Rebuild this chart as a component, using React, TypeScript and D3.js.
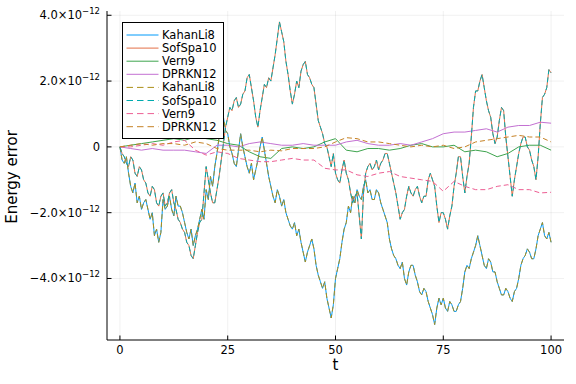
import React from "react";
import * as d3 from "d3";

// values in units of 1e-12
const tHalf: number[] = d3.range(0, 100.5, 0.5);
const tStep25: number[] = d3.range(0, 101, 2.5);

const kahanLi8: number[] = [
  0, -0.4, -0.5, -0.3, -0.8, -1.2, -1.4, -1.1, -1.7, -1.5,
  -1.9, -1.7, -1.6, -1.9, -2.2, -2.0, -2.7, -2.5, -2.9, -2.6,
  -1.6, -1.9, -1.8, -1.5, -1.9, -2.1, -1.5, -1.8, -1.8, -2.0,
  -2.3, -2.6, -2.8, -2.5, -3.0, -2.7, -2.5, -2.2, -1.9, -2.2,
  -1.3, -1.6, -0.9, -1.2, -0.6, -0.2, 0.3, 0.7, 0.9, 0.5,
  0.4, 0.0, -0.2, -0.5, -0.6, -0.1, 0.4, 0.0, -0.3, -0.6,
  -0.8, -0.5, -1.0, -0.7, -0.4, 0.0, 0.3, -0.1, -0.5, -0.9,
  -1.2, -1.5, -1.7, -1.3, -1.5, -1.8, -1.6, -2.0, -2.2, -2.4,
  -2.5, -2.3, -2.7, -2.5, -2.9, -3.2, -3.5, -3.2, -3.0, -2.8,
  -3.1, -3.6, -3.9, -4.1, -4.3, -4.1, -4.6, -4.9, -5.2, -4.8,
  -4.0, -3.7, -3.4, -2.9, -2.5, -2.3, -1.8, -2.0, -1.5, -1.7,
  -1.3, -1.5, -1.6, -1.2, -1.0, -1.4, -1.3, -1.6, -1.6, -1.3,
  -1.4, -1.7, -1.9, -2.1, -2.3, -2.8, -3.1, -3.3, -3.4, -3.6,
  -3.7, -3.5, -4.0, -4.2, -3.8, -3.6, -3.6, -3.9, -4.1, -4.4,
  -4.5, -4.3, -4.4, -4.7, -4.9, -5.1, -5.4, -4.9, -4.6, -4.8,
  -4.6, -4.9, -5.0, -4.7, -4.8, -5.0, -5.0, -4.8, -4.7, -4.3,
  -3.8, -3.6, -3.7, -3.4, -3.2, -3.0, -2.7, -3.0, -3.3, -3.6,
  -3.7, -3.4, -3.5, -3.8, -3.8, -4.1, -4.3, -4.5, -4.5, -4.3,
  -4.4, -4.6, -4.7, -4.4, -4.3, -4.0, -3.6, -3.4, -3.3, -3.1,
  -3.2, -3.4, -3.4, -3.1, -2.7, -2.5, -2.3, -2.7, -2.8, -2.6,
  -2.9,
];

const sofSpa10: number[] = [
  0, -0.2, -0.3, -0.5, -0.6, -0.3, -0.4, -0.8, -0.9, -0.6,
  -0.7, -1.0, -1.1, -1.4, -1.5, -1.2, -1.3, -1.7, -1.8, -1.5,
  -1.4, -1.8, -1.7, -1.4, -1.3, -1.7, -1.9, -2.2, -2.3, -2.5,
  -2.6, -2.9, -3.0, -3.3, -3.4, -3.0, -2.6, -2.3, -2.2, -1.4,
  -0.6, -1.0, -1.4, -1.7, -1.7, -1.3, -0.9, -0.4, 0.1, 0.6,
  0.9, 1.2, 1.1, 1.4, 1.5, 1.2, 1.3, 1.6, 1.7, 2.1,
  2.2, 1.8, 1.4, 0.9, 0.6, 1.1, 1.5, 1.9, 1.8, 2.1,
  2.0, 2.4, 2.8, 3.3, 3.8, 3.5, 3.2, 2.6, 2.2, 1.7,
  1.3, 1.6, 2.0, 1.8, 2.3, 2.5, 2.6, 2.2, 2.1, 1.9,
  1.8, 1.3, 0.8, 0.6, 0.4, 0.1, 0.0, -0.3, -0.6, -0.2,
  -0.8, -1.0, -1.1, -0.7, -0.4, -0.8, -1.0, -1.4, -1.7, -1.5,
  -1.4, -2.1, -2.8, -1.4, -0.8, -0.6, -0.5, -0.7, -0.6, -0.4,
  -0.7, -0.5, -0.4, -0.2, -0.2, -0.5, -0.8, -1.1, -1.4, -1.8,
  -2.2, -2.0, -1.9, -1.5, -1.2, -1.4, -1.5, -1.3, -1.2, -1.5,
  -1.7, -1.5, -1.5, -1.0, -0.8, -1.0, -1.2, -1.8, -2.3, -2.0,
  -2.0, -2.2, -2.5, -2.1, -1.8, -1.2, -0.8, -0.3, -0.3, -0.9,
  -1.4, -0.9, -0.5, 0.3, 1.2, 1.7, 1.7, 2.0, 2.2, 1.8,
  1.4, 1.1, 0.9, 0.4, 0.1, 0.3, 0.8, 1.2, 1.1, 0.3,
  -0.3, -0.9, -1.5, -1.0, -0.6, -0.2, 0.1, 0.3, 0.3, 0.0,
  -0.1, -0.4, -0.6, -1.0, -0.3, 0.7, 1.5, 1.6, 1.8, 2.35,
  2.25,
];

const vern9: number[] = [
  0, 0.05, 0.1, 0.15, 0.2, 0.25, 0.2, 0.3, 0.25, 0.2,
  0.1, 0.05, -0.15, -0.3, -0.35, -0.05, 0.0, -0.05, 0.0, 0.15,
  0.25, -0.1, -0.15, -0.05, -0.05, -0.1, -0.05, 0.05, 0.1, 0.0,
  0.0, 0.05, -0.15, -0.1, -0.15, -0.3, -0.2, 0.0, 0.05, 0.05,
  -0.1,
];

const dprkn12: number[] = [
  0, -0.05, -0.1, -0.05, -0.1, -0.1, -0.1, -0.15, -0.2, 0.05,
  0.05, 0.0, 0.1, 0.15, 0.1, 0.05, 0.05, 0.1, 0.05, 0.05,
  0.05, 0.15, 0.2, 0.1, 0.05, 0.05, 0.1, 0.05, 0.15, 0.25,
  0.4, 0.45, 0.45, 0.5, 0.55, 0.45, 0.6, 0.65, 0.65, 0.75,
  0.72,
];

const vern9Dashed: number[] = [
  0, 0.0, 0.05, 0.1, 0.05, 0.15, 0.2, -0.1, -0.25, -0.15,
  -0.2, -0.35, -0.4, -0.45, -0.45, -0.4, -0.35, -0.4, -0.4, -0.65,
  -0.7, -0.7, -0.85, -0.9, -0.8, -0.75, -0.9, -0.95, -1.0, -1.05,
  -1.35, -1.05, -1.2, -1.3, -1.3, -1.2, -1.15, -1.3, -1.3, -1.4,
  -1.38,
];

const dprkn12Dashed: number[] = [
  0, 0.05, 0.1, 0.05, 0.1, 0.1, 0.05, 0.15, 0.1, -0.05,
  -0.1, -0.1, -0.1, -0.15, -0.1, -0.12, -0.05, -0.05, -0.05, 0.0,
  0.15, 0.28, 0.25, 0.15, 0.15, 0.1, 0.05, 0.0, 0.05, 0.0,
  0.05, -0.05, 0.0, 0.15, 0.2, 0.25, 0.3, 0.35, 0.3, 0.3,
  0.15,
];

const seriesNames: string[] = [
  "KahanLi8", "SofSpa10", "Vern9", "DPRKN12",
  "KahanLi8", "SofSpa10", "Vern9", "DPRKN12",
];
const seriesColors: string[] = [
  "#009afa", "#e36f47", "#3ea44e", "#c371d2",
  "#ac8e18", "#00aaae", "#ed5e93", "#c68225",
];
const seriesDashed: boolean[] = [false, false, false, false, true, true, true, true];
const seriesT: number[][] = [tHalf, tHalf, tStep25, tStep25, tHalf, tHalf, tStep25, tStep25];
const seriesY: number[][] = [kahanLi8, sofSpa10, vern9, dprkn12, kahanLi8, sofSpa10, vern9Dashed, dprkn12Dashed];

const xTicks: number[] = [0, 25, 50, 75, 100];
const yTicks: number[] = [-4, -2, 0, 2, 4];

const W = 576;
const H = 384;
const FONT = "DejaVu Sans";

export default function App() {
  const x = d3.scaleLinear().domain([-3, 103]).range([107, 564]);
  const y = d3.scaleLinear().domain([-5.87, 4.13]).range([340, 11]);

  const line = d3.line<[number, number]>()
    .x(d => x(d[0]))
    .y(d => y(d[1]));

  const yLabel = (v: number) => {
    if (v === 0) return <tspan>0</tspan>;
    const m = (v < 0 ? "\u2212" : "") + Math.abs(v).toFixed(1) + "\u00d710";
    return [
      <tspan key="m">{m}</tspan>,
      <tspan key="e" fontSize={8.5} dy={-5}>{"\u221212"}</tspan>,
    ];
  };

  const legX = 122.5, legY = 22.5, legW = 101, legH = 116;

  return (
    <svg width={W} height={H} style={{ position: "absolute", left: 0, top: 0, background: "#fff" }}
      fontFamily={FONT}>
      <rect x={0} y={0} width={W} height={H} fill="#fff" />
      {/* grid */}
      {xTicks.map(t => (
        <line key={"gx" + t} x1={x(t)} x2={x(t)} y1={11} y2={340} stroke="#000" strokeOpacity={0.1} strokeWidth={0.6} />
      ))}
      {yTicks.map(v => (
        <line key={"gy" + v} x1={107} x2={564} y1={y(v)} y2={y(v)} stroke="#000" strokeOpacity={0.1} strokeWidth={0.6} />
      ))}
      {/* series */}
      {seriesY.map((vals, i) => {
        const pts: [number, number][] = vals.map((v, j) => [seriesT[i][j], v]);
        return (
          <path key={"s" + i} d={line(pts) || ""} fill="none" stroke={seriesColors[i]}
            strokeWidth={1} strokeLinejoin="round"
            strokeDasharray={seriesDashed[i] ? "5,3" : undefined} />
        );
      })}
      {/* axes */}
      <line x1={107} x2={107} y1={11} y2={340} stroke="#000" strokeWidth={1} />
      <line x1={107} x2={564} y1={340} y2={340} stroke="#000" strokeWidth={1} />
      {xTicks.map(t => (
        <g key={"xt" + t}>
          <line x1={x(t)} x2={x(t)} y1={340} y2={335.5} stroke="#000" strokeWidth={1} />
          <text x={x(t)} y={354} fontSize={11.5} textAnchor="middle" fill="#000">{t}</text>
        </g>
      ))}
      {yTicks.map(v => (
        <g key={"yt" + v}>
          <line x1={107} x2={111.5} y1={y(v)} y2={y(v)} stroke="#000" strokeWidth={1} />
          <text x={100} y={y(v) + 4} fontSize={11.5} textAnchor="end" fill="#000">{yLabel(v)}</text>
        </g>
      ))}
      <text x={335.5} y={370} fontSize={15} textAnchor="middle" fill="#000">t</text>
      <text transform={`translate(17,177) rotate(-90)`} fontSize={15} textAnchor="middle" fill="#000">Energy error</text>
      {/* legend */}
      <rect x={legX} y={legY} width={legW} height={legH} fill="#fff" stroke="#000" strokeWidth={1} />
      {seriesNames.map((n, i) => {
        const cy = 35 + i * 13.1;
        return (
          <g key={"l" + i}>
            <line x1={126.5} x2={158.5} y1={cy} y2={cy} stroke={seriesColors[i]} strokeWidth={1}
              strokeDasharray={seriesDashed[i] ? "6.5,4" : undefined} />
            <text x={162} y={cy + 4} fontSize={11.5} fill="#000">{n}</text>
          </g>
        );
      })}
    </svg>
  );
}
